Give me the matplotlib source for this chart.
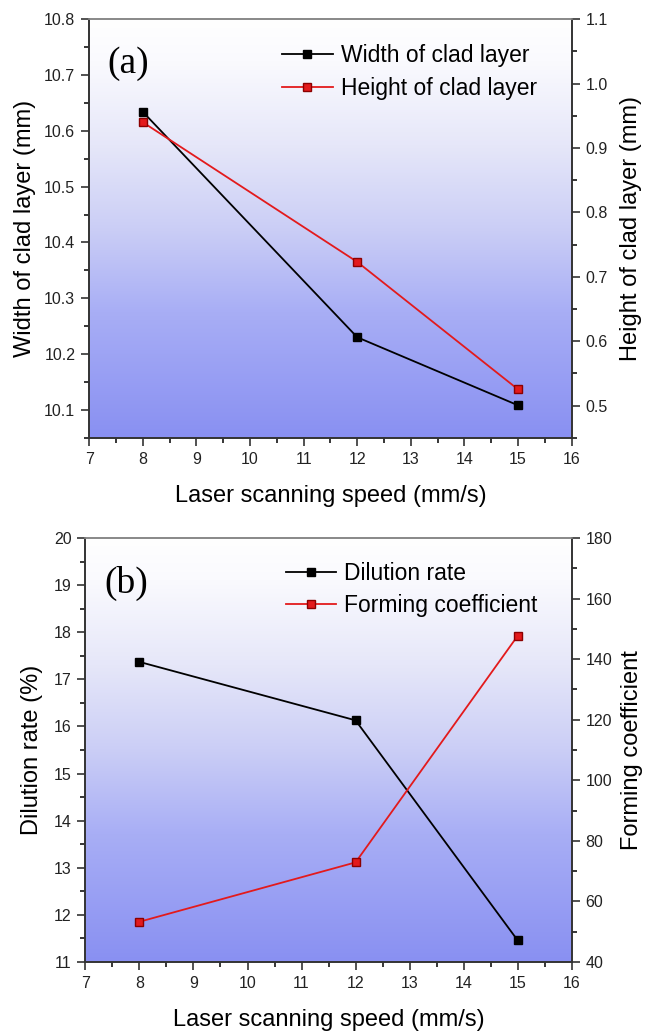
import numpy as np
import matplotlib
matplotlib.use("Agg")
import matplotlib.pyplot as plt
from matplotlib.colors import LinearSegmentedColormap
from matplotlib.ticker import MultipleLocator, FormatStrFormatter

plt.rcParams['font.family'] = ['Liberation Sans', 'DejaVu Sans']

# data
speed = [8, 12, 15]
width_clad = [10.634, 10.230, 10.108]
height_clad = [0.940, 0.723, 0.525]
dilution = [17.37, 16.13, 11.46]
forming = [53.3, 72.9, 147.7]

# background gradient (white on top -> periwinkle blue at the bottom)
bg = LinearSegmentedColormap.from_list(
    'bg', [(0.0, '#8990f2'), (0.3, '#a8aef5'), (0.5, '#cbcef6'),
           (0.7, '#e6e7f9'), (0.9, '#fafafe'), (1.0, '#ffffff')])
grad = np.linspace(0, 1, 256).reshape(-1, 1)

TICK_FS = 11.5
LABEL_FS = 17
LEG_FS = 16.5


def style_axes(ax, ax2):
    ax.imshow(grad, cmap=bg, origin='lower', aspect='auto',
              extent=[0, 1, 0, 1], transform=ax.transAxes, zorder=0)
    ax.set_xlim(7, 16)
    ax.xaxis.set_major_locator(MultipleLocator(1))
    ax.xaxis.set_minor_locator(MultipleLocator(0.5))
    for a in (ax, ax2):
        a.tick_params(which='major', direction='out', length=6, width=1.1,
                      labelsize=TICK_FS, colors='#222222', pad=4)
        a.tick_params(which='minor', direction='out', length=3.5, width=1.1)
        for s in a.spines.values():
            s.set_color('#333333')
            s.set_linewidth(1.2)
    ax.spines['top'].set_color('#888888')
    ax2.spines['top'].set_color('#888888')
    ax.tick_params(top=False, right=False)
    ax.set_xlabel('Laser scanning speed (mm/s)', fontsize=LABEL_FS, labelpad=13)


fig = plt.figure(figsize=(6.56, 10.35), dpi=100)

# (a) width / height of clad layer
ax1 = fig.add_axes([0.1360, 0.5771, 0.7355, 0.4043])
ax1b = ax1.twinx()
style_axes(ax1, ax1b)
ax1.set_ylim(10.05, 10.8)
ax1.yaxis.set_major_locator(MultipleLocator(0.1))
ax1.yaxis.set_minor_locator(MultipleLocator(0.05))
ax1b.set_ylim(0.45, 1.1)
ax1b.yaxis.set_major_locator(MultipleLocator(0.1))
ax1b.yaxis.set_minor_locator(MultipleLocator(0.05))
ax1.yaxis.set_major_formatter(FormatStrFormatter('%.1f'))
ax1b.yaxis.set_major_formatter(FormatStrFormatter('%.1f'))
l1, = ax1.plot(speed, width_clad, color='black', marker='s', ms=5.5, lw=1.3,
               label='Width of clad layer', zorder=3)
l2, = ax1b.plot(speed, height_clad, color='#e31a1c', marker='s', ms=5.5, lw=1.3,
                mec='#8b0000', label='Height of clad layer', zorder=3)
ax1.set_ylabel('Width of clad layer (mm)', fontsize=LABEL_FS, labelpad=6)
ax1b.set_ylabel('Height of clad layer (mm)', fontsize=LABEL_FS, labelpad=9)
ax1b.legend(handles=[l1, l2], loc='upper left', bbox_to_anchor=(0.40, 0.94),
            frameon=False, fontsize=LEG_FS, handlelength=2.2, handletextpad=0.35,
            labelspacing=0.4, borderaxespad=0, borderpad=0)
ax1.text(0.08, 0.893, '(a)', transform=ax1.transAxes, fontsize=27,
         family='Liberation Serif', va='center', ha='center')

# (b) dilution rate / forming coefficient
ax2 = fig.add_axes([0.1302, 0.0705, 0.7413, 0.4097])
ax2b = ax2.twinx()
style_axes(ax2, ax2b)
ax2.set_ylim(11, 20)
ax2.yaxis.set_major_locator(MultipleLocator(1))
ax2.yaxis.set_minor_locator(MultipleLocator(0.5))
ax2b.set_ylim(40, 180)
ax2b.yaxis.set_major_locator(MultipleLocator(20))
ax2b.yaxis.set_minor_locator(MultipleLocator(10))
l3, = ax2.plot(speed, dilution, color='black', marker='s', ms=5.5, lw=1.3,
               label='Dilution rate', zorder=3)
l4, = ax2b.plot(speed, forming, color='#e31a1c', marker='s', ms=5.5, lw=1.3,
                mec='#8b0000', label='Forming coefficient', zorder=3)
ax2.set_ylabel('Dilution rate (%)', fontsize=LABEL_FS, labelpad=8)
ax2b.set_ylabel('Forming coefficient', fontsize=LABEL_FS, labelpad=6)
ax2b.legend(handles=[l3, l4], loc='upper left', bbox_to_anchor=(0.4126, 0.944),
            frameon=False, fontsize=LEG_FS, handlelength=2.2, handletextpad=0.35,
            labelspacing=0.4, borderaxespad=0, borderpad=0)
ax2.text(0.083, 0.894, '(b)', transform=ax2.transAxes, fontsize=27,
         family='Liberation Serif', va='center', ha='center')

fig.savefig('out.png', dpi=100)
